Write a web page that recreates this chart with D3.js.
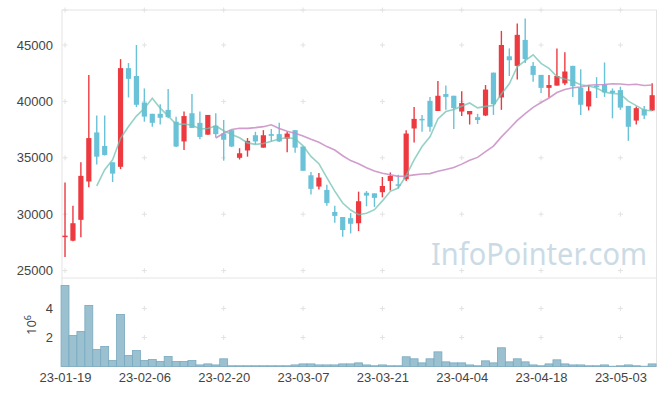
<!DOCTYPE html>
<html>
<head>
<meta charset="utf-8">
<script src="https://cdn.jsdelivr.net/npm/d3@7"></script>
<style>
  body { margin: 0; background: #fff; }
  svg { display: block; font-family: "Noto Sans", "Open Sans", sans-serif; }
  .tick text { fill: #444; font-size: 13px; }
</style>
</head>
<body>
<svg id="chart" width="665" height="396"></svg>
<script>
// trading days (yy-mm-dd)
const dates = ["23-01-19","23-01-20","23-01-25","23-01-26","23-01-27","23-01-30","23-01-31","23-02-01","23-02-02","23-02-03",
  "23-02-06","23-02-07","23-02-08","23-02-09","23-02-10","23-02-13","23-02-14","23-02-15","23-02-16","23-02-17",
  "23-02-20","23-02-21","23-02-22","23-02-23","23-02-24","23-02-27","23-02-28","23-03-02","23-03-03","23-03-06",
  "23-03-07","23-03-08","23-03-09","23-03-10","23-03-13","23-03-14","23-03-15","23-03-16","23-03-17","23-03-20",
  "23-03-21","23-03-22","23-03-23","23-03-24","23-03-27","23-03-28","23-03-29","23-03-30","23-03-31","23-04-03",
  "23-04-04","23-04-05","23-04-06","23-04-07","23-04-10","23-04-11","23-04-12","23-04-13","23-04-14","23-04-17",
  "23-04-18","23-04-19","23-04-20","23-04-21","23-04-24","23-04-25","23-04-26","23-04-27","23-04-28","23-05-02",
  "23-05-03","23-05-04","23-05-08","23-05-09","23-05-10"];

const open = [28000,27650,29500,32900,37250,36050,34600,34200,42950,42250,
  39900,38900,38900,39250,38200,36450,38950,38100,37050,37850,
  37150,37450,35000,35650,37000,35900,37100,37100,36700,37450,
  36000,33450,32450,32150,30200,29750,29650,29200,31900,31850,
  31950,32950,32650,33100,37600,38450,40050,39150,40650,40500,
  39100,38850,38600,38750,42550,40350,44000,43150,45450,43150,
  42350,41200,41400,41600,43150,41200,39550,41400,41500,40950,
  41000,39600,38300,39300,39200];

const high = [32800,30750,34600,42350,38750,38750,34600,43750,43400,45000,
  41150,38900,39750,41100,38650,39100,40650,39100,38800,38950,
  38350,37450,35850,36750,37300,37450,37550,38100,37300,37450,
  36000,33750,33650,32600,30750,29750,30100,32000,32050,31850,
  33300,33700,33500,37450,39500,38800,40400,41800,41400,40500,
  40900,39150,38900,41450,42550,46250,44700,46900,47350,43500,
  42350,42350,44700,44350,43150,42850,41450,42150,43450,41150,
  41300,39600,39550,39600,41600];

const low = [26200,27600,27950,32400,34400,35200,32850,34000,40350,39500,
  38200,37750,37950,38500,35950,35700,37650,36650,37050,36800,
  34750,35950,34850,35100,36200,35900,36450,36400,35500,35450,
  33850,31750,32200,30750,29250,28000,28300,28500,30700,30650,
  31500,32100,32300,32950,36350,37300,37300,39150,39250,37550,
  38700,37950,38000,38700,38800,39250,42250,41950,43400,41750,
  40750,40350,41400,41450,40400,38800,39200,40300,40400,38500,
  39250,36500,37950,38450,39150];

const close = [28100,29200,33400,36750,35100,35250,33600,42950,42000,39700,
  38650,38100,38550,38600,36000,38700,37650,36850,38800,37100,
  36600,36000,35400,36500,36450,37000,36950,36450,37150,35900,
  33850,32250,33250,31000,29850,28600,29150,31150,31650,31450,
  32500,33400,32600,37150,38450,38400,37750,40500,40400,39400,
  39850,39150,38350,41050,39750,45000,43650,45900,43750,42350,
  41200,41450,42250,42650,41350,39700,40900,41350,40800,40750,
  39450,37750,39400,38750,40550];

// volume in shares
const volume = [5590000,2140000,2410000,4210000,1170000,1380000,410000,3590000,760000,1100000,
  410000,480000,340000,690000,340000,340000,410000,110000,180000,110000,
  530000,50000,50000,50000,50000,50000,50000,50000,50000,110000,
  180000,180000,110000,110000,110000,180000,180000,250000,110000,50000,
  110000,50000,50000,670000,530000,250000,530000,1010000,320000,250000,
  250000,110000,50000,390000,250000,1290000,320000,530000,320000,110000,
  50000,180000,460000,180000,110000,110000,50000,50000,110000,20000,
  50000,110000,50000,20000,180000];

const priceTicks = [25000, 30000, 35000, 40000, 45000];
const volumeTicks = [2000000, 4000000];
const dateTicks = [0, 10, 20, 30, 40, 50, 60, 70];

const upColor = "#ec3a40";
const downColor = "#6ac2d8";

const plot = { left: 62, right: 656.5, top: 10, split: 278, bottom: 366.5 };

const svg = d3.select("#chart");

x = d3.scaleLinear()
  .domain([-0.38, 74.55])
  .range([plot.left, plot.right]);

y = d3.scaleLinear()
  .domain([24344, 48103])
  .range([plot.split, plot.top]);

yVol = d3.scaleLinear()
  .domain([0, 6100000])
  .range([plot.bottom, plot.split]);

const step = x(1) - x(0);

// moving averages of the close
const movingAverage = (n) => close.map((c, i) => i < n - 1 ? null : d3.mean(close.slice(i - n + 1, i + 1)));
const ma5 = movingAverage(5);
const ma20 = movingAverage(20);

// frame
svg.append("rect")
  .attr("x", plot.left).attr("y", plot.top)
  .attr("width", plot.right - plot.left).attr("height", plot.bottom - plot.top)
  .attr("fill", "none").attr("stroke", "#e4e4e4");

svg.append("line")
  .attr("x1", plot.left).attr("x2", plot.right)
  .attr("y1", plot.split).attr("y2", plot.split)
  .attr("stroke", "#e4e4e4");

// "+" grid markers
const crossYs = [plot.top, ...priceTicks.map(y), ...volumeTicks.map(yVol)];
const crosses = [];
dateTicks.forEach(i => crossYs.forEach(cy => crosses.push([x(i), cy])));
svg.append("g")
  .selectAll("path")
  .data(crosses)
  .join("path")
  .attr("d", d => `M${d[0] - 2.5},${d[1]}h5M${d[0]},${d[1] - 2.5}v5`)
  .attr("stroke", "#e2e2e2")
  .attr("stroke-width", 1);

// watermark
svg.append("text")
  .attr("x", 431)
  .attr("y", 265)
  .attr("textLength", 216)
  .attr("lengthAdjust", "spacingAndGlyphs")
  .attr("fill", "#cbdbe5")
  .style("font-size", "31px")
  .text("InfoPointer.com");

// volume bars
svg.append("g")
  .selectAll("rect")
  .data(volume)
  .join("rect")
  .attr("x", (d, i) => x(i) - step / 2)
  .attr("y", d => yVol(d))
  .attr("width", step)
  .attr("height", d => yVol(0) - yVol(d))
  .attr("fill", "#9bc1d1")
  .attr("stroke", "#78a9bf")
  .attr("stroke-width", 0.8);

// candles
const candles = svg.append("g")
  .selectAll("g")
  .data(d3.range(close.length))
  .join("g")
  .attr("fill", i => close[i] >= open[i] ? upColor : downColor)
  .attr("stroke", i => close[i] >= open[i] ? upColor : downColor);

candles.append("line")
  .attr("x1", i => x(i)).attr("x2", i => x(i))
  .attr("y1", i => y(high[i])).attr("y2", i => y(low[i]))
  .attr("stroke-width", 1.4);

candles.append("rect")
  .attr("x", i => x(i) - 2.6)
  .attr("width", 5.2)
  .attr("y", i => y(Math.max(open[i], close[i])))
  .attr("height", i => Math.max(1.5, Math.abs(y(open[i]) - y(close[i]))))
  .attr("stroke", "none");

// moving average lines
const line = d3.line()
  .defined(d => d !== null)
  .x((d, i) => x(i))
  .y(d => y(d));

svg.append("path")
  .datum(ma20)
  .attr("d", line)
  .attr("fill", "none")
  .attr("stroke", "#c88cc3")
  .attr("stroke-opacity", 0.85)
  .attr("stroke-width", 1.6);

svg.append("path")
  .datum(ma5)
  .attr("d", line)
  .attr("fill", "none")
  .attr("stroke", "#72c2b3")
  .attr("stroke-opacity", 0.75)
  .attr("stroke-width", 1.6);

// axes
yAxis = g => g
  .attr("transform", `translate(${plot.left - 6},0)`)
  .call(d3.axisLeft(y).tickValues(priceTicks).tickSize(0).tickFormat(d3.format("d")))
  .call(g => g.select(".domain").remove());

yVolAxis = g => g
  .attr("transform", `translate(${plot.left - 6},0)`)
  .call(d3.axisLeft(yVol).tickValues(volumeTicks).tickSize(0).tickFormat(d => d / 1e6))
  .call(g => g.select(".domain").remove());

xAxis = g => g
  .attr("transform", `translate(0,${plot.bottom})`)
  .call(d3.axisBottom(x).tickValues(dateTicks).tickSize(0).tickPadding(6).tickFormat(i => dates[i]))
  .call(g => g.select(".domain").remove());

svg.append("g").call(yAxis);
svg.append("g").call(yVolAxis);
svg.append("g").call(xAxis);

svg.selectAll(".tick text").attr("font-family", null);

// exponent label for volume
const expLabel = svg.append("text")
  .attr("transform", "translate(36,325) rotate(-90)")
  .attr("text-anchor", "middle")
  .attr("fill", "#444")
  .style("font-size", "13px");
expLabel.append("tspan").text("10");
expLabel.append("tspan").attr("dy", -5).style("font-size", "9px").text("6");
</script>
</body>
</html>
